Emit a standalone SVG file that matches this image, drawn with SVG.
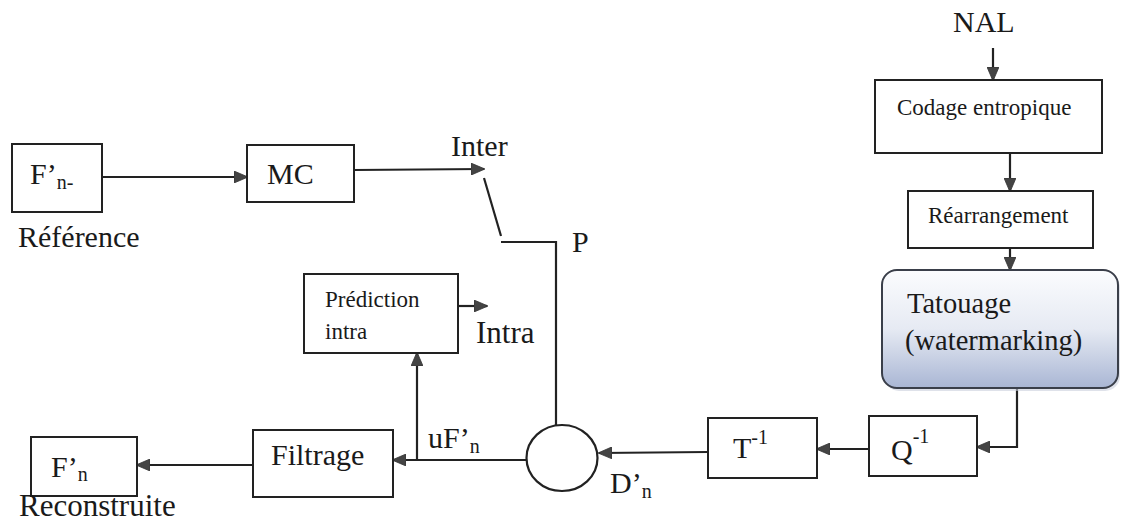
<svg xmlns="http://www.w3.org/2000/svg" width="1123" height="528" viewBox="0 0 1123 528">
<style>
.box{fill:#fff;stroke:#222;stroke-width:2}
.ln{fill:none;stroke:#222;stroke-width:2.2}
.t{font-family:"Liberation Serif","Times New Roman",serif;fill:#1a1a1a}
.big{font-size:30px}
.sm{font-size:23px}
.sub{font-size:20px}
</style>
<defs>
<marker id="ah" markerWidth="14" markerHeight="12" refX="13" refY="6" orient="auto" markerUnits="userSpaceOnUse">
<path d="M0,0 L14,6 L0,12 Z" fill="#444" stroke="#333" stroke-width="0.8"/>
</marker>
<linearGradient id="tg" x1="0" y1="0" x2="0" y2="1">
<stop offset="0" stop-color="#fbfcfe"/>
<stop offset="0.5" stop-color="#e6eaf3"/>
<stop offset="1" stop-color="#a9b6d4"/>
</linearGradient>
</defs>
<rect width="1123" height="528" fill="#fff"/>

<g id="connectors">
<line class="ln" x1="102" y1="177" x2="247" y2="177" marker-end="url(#ah)"/>
<line class="ln" x1="354" y1="170" x2="484" y2="169" marker-end="url(#ah)"/>
<line class="ln" x1="484" y1="178" x2="501" y2="236"/>
<polyline class="ln" points="501,242 556,242 556,425"/>
<line class="ln" x1="458" y1="306" x2="487" y2="306" marker-end="url(#ah)"/>
<line class="ln" x1="527" y1="460" x2="393" y2="460" marker-end="url(#ah)"/>
<line class="ln" x1="417" y1="460" x2="417" y2="353" marker-end="url(#ah)"/>
<line class="ln" x1="253" y1="465" x2="137" y2="465" marker-end="url(#ah)"/>
<line class="ln" x1="708" y1="452" x2="599" y2="453" marker-end="url(#ah)"/>
<line class="ln" x1="869" y1="449" x2="817" y2="449" marker-end="url(#ah)"/>
<polyline class="ln" points="1017,388 1017,447 977,447" marker-end="url(#ah)"/>
<line class="ln" x1="993" y1="48" x2="993" y2="80" marker-end="url(#ah)"/>
<line class="ln" x1="1010" y1="153" x2="1010" y2="191" marker-end="url(#ah)"/>
<line class="ln" x1="1010" y1="248" x2="1010" y2="270" marker-end="url(#ah)"/>
</g>

<g id="fn1">
<rect class="box" x="12" y="144" width="90" height="68"/>
<text class="t big" x="30" y="184">F’<tspan class="sub" dy="5">n-</tspan></text>
</g>
<text class="t big" x="18" y="247">Référence</text>

<g id="mc">
<rect class="box" x="247" y="145" width="107" height="57"/>
<text class="t big" x="267" y="184">MC</text>
</g>
<text class="t big" x="451" y="156">Inter</text>
<text class="t big" x="572" y="252">P</text>

<g id="prediction">
<rect class="box" x="304" y="274" width="154" height="79"/>
<text class="t sm" x="325" y="307">Prédiction</text>
<text class="t sm" x="325" y="339">intra</text>
</g>
<text class="t" font-size="31" x="476" y="343">Intra</text>

<g id="sum">
<ellipse cx="562" cy="458" rx="35.5" ry="33" fill="#fff" stroke="#222" stroke-width="2.2"/>
</g>

<g id="filtrage">
<rect class="box" x="253" y="430" width="140" height="67"/>
<text class="t big" x="271" y="465">Filtrage</text>
</g>
<text class="t big" x="428" y="448">uF’<tspan class="sub" dy="5">n</tspan></text>

<g id="fn">
<rect class="box" x="31" y="437" width="106" height="59"/>
<text class="t big" x="51" y="477">F’<tspan class="sub" dy="4">n</tspan></text>
</g>
<text class="t" font-size="31" x="19" y="516">Reconstruite</text>

<g id="tinv">
<rect class="box" x="708" y="418" width="109" height="60"/>
<text class="t big" x="733" y="458">T<tspan class="sub" dy="-14">-1</tspan></text>
</g>
<text class="t big" x="610" y="493">D’<tspan class="sub" dy="5">n</tspan></text>

<g id="qinv">
<rect class="box" x="869" y="416" width="108" height="60"/>
<text class="t big" x="891" y="460">Q<tspan class="sub" dy="-17">-1</tspan></text>
</g>

<g id="tatouage">
<rect x="884" y="273" width="236" height="118" rx="15" fill="#c9cfdc" opacity="0.6"/>
<rect x="882" y="270" width="236" height="118" rx="15" fill="url(#tg)" stroke="#3a3f4a" stroke-width="2"/>
<text class="t" font-size="28.5" x="907" y="313">Tatouage</text>
<text class="t" font-size="28.5" x="905" y="350">(watermarking)</text>
</g>

<g id="rearrangement">
<rect class="box" x="908" y="191" width="185" height="57"/>
<text class="t sm" x="928" y="223">Réarrangement</text>
</g>

<g id="codage">
<rect class="box" x="875" y="80" width="227" height="73"/>
<text class="t sm" x="897" y="115">Codage entropique</text>
</g>
<text class="t big" x="953" y="32">NAL</text>
</svg>
